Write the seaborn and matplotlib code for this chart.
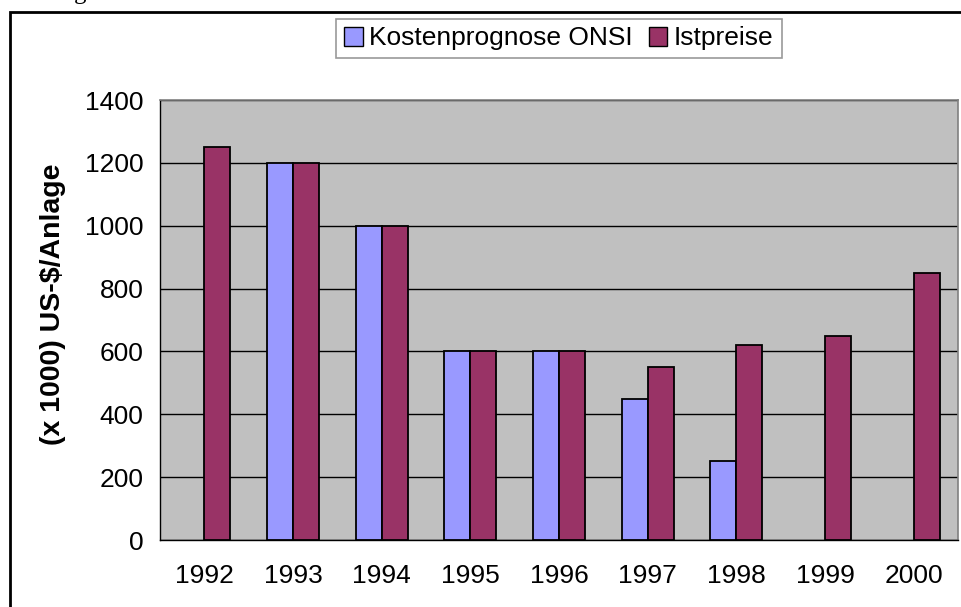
import numpy as np
import pandas as pd
import matplotlib
matplotlib.use("Agg")
import matplotlib.pyplot as plt
from matplotlib.patches import Rectangle, Patch
import seaborn as sns

# Werte
years = ["1992", "1993", "1994", "1995", "1996", "1997", "1998", "1999", "2000"]
prognose = [np.nan, 1200, 1000, 600, 600, 450, 250, np.nan, np.nan]
istpreise = [1250, 1200, 1000, 600, 600, 550, 620, 650, 850]
series = ["Kostenprognose ONSI", "Istpreise"]
colors = ["#9999FF", "#993366"]

df = pd.DataFrame({
    "Jahr": years * 2,
    "Serie": [series[0]] * len(years) + [series[1]] * len(years),
    "Wert": prognose + istpreise,
})

sns.set_theme(style="white")
plt.rcParams["font.family"] = ["Liberation Sans", "DejaVu Sans"]
plt.rcParams["text.color"] = "black"
plt.rcParams["xtick.color"] = "black"
plt.rcParams["ytick.color"] = "black"
plt.rcParams["axes.labelcolor"] = "black"

fig = plt.figure(figsize=(9.62, 6.07), dpi=100)
ax = fig.add_axes([160 / 962, 67 / 607, 798 / 962, 440 / 607])
ax.set_facecolor("#C0C0C0")

sns.barplot(data=df, x="Jahr", y="Wert", hue="Serie", order=years,
            hue_order=series, palette=colors, width=0.59,
            edgecolor="black", linewidth=1.3, saturation=1,
            legend=False, ax=ax, zorder=3)

ax.set_ylim(0, 1400)
ax.set_xlim(-0.5, len(years) - 0.5)
ax.set_yticks(range(0, 1401, 200))
ax.yaxis.grid(True, color="black", linewidth=1.0, zorder=1)
ax.set_axisbelow(True)

# ticks zwischen den Kategorien
ax.set_xticks(np.arange(len(years)))
ax.set_xticklabels(years)
ax.set_xticks(np.arange(-0.5, len(years)), minor=True)
ax.tick_params(axis="x", which="major", length=0, pad=17, labelsize=19)
ax.tick_params(axis="x", which="minor", length=7, width=1, color="black", direction="out")
ax.tick_params(axis="y", length=7, width=1, color="black", direction="out", pad=5, labelsize=19)

for side in ["top", "right"]:
    ax.spines[side].set_color("#808080")
    ax.spines[side].set_linewidth(1.2)
for side in ["left", "bottom"]:
    ax.spines[side].set_color("black")
    ax.spines[side].set_linewidth(1.0)

ax.set_xlabel("")
ax.set_ylabel("(x 1000) US-$/Anlage", fontsize=20.5, fontweight="bold")
ax.yaxis.set_label_coords(-0.118, 0.535)

handles = [Patch(facecolor=c, edgecolor="black", linewidth=1.0) for c in colors]
leg = fig.legend(handles, series, loc="center", bbox_to_anchor=(559 / 962, 1 - 38.5 / 607),
                 ncol=2, frameon=True, fancybox=False, fontsize=19,
                 handlelength=0.7, handleheight=0.7, handletextpad=0.25,
                 columnspacing=0.6, borderpad=0.3, edgecolor="#808080")
leg.get_frame().set_linewidth(1.2)

# äußerer Diagrammrahmen
fig.patches.append(Rectangle((10 / 962, -0.1), 1.1, 1 - 12 / 607 + 0.1,
                             transform=fig.transFigure, fill=False,
                             edgecolor="black", linewidth=2.0))
# abgeschnittener Text oberhalb
fig.text(74 / 962, 1 + 1 / 607, "g", family="Liberation Serif", fontsize=18,
         ha="left", va="baseline")

fig.savefig("out.png", dpi=100)
